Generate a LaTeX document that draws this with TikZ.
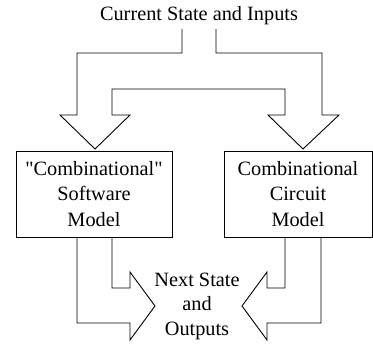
\documentclass[tikz,border=0pt]{standalone}
\usepackage{fontspec}
\setmainfont{Liberation Serif}[Ligatures=TeXOff]
\usetikzlibrary{positioning}
\tikzset{model/.style={rectangle,draw,align=center,inner sep=0pt,font=\fontsize{20.3}{25.5}\selectfont},label/.style={align=center,inner sep=0pt,font=\fontsize{20.3}{24.5}\selectfont},fat/.style={draw,line width=0.9pt,line join=miter}}
\begin{document}
\begin{tikzpicture}[x=1pt,y=-1pt]
\useasboundingbox (0,0) rectangle (373,345);
\node[label, anchor=base] (in) at (199,21) {Current State and Inputs};
\node[model, minimum width=156pt, minimum height=86pt, line width=0.9pt] (sw) at (94,194) {"Combinational"\\Software\\Model};
\node[model, minimum width=148pt, minimum height=86pt, line width=0.9pt] (cc) at (298,194) {Combinational\\Circuit\\Model};
\node[label] (out) at (197,306) {Next State\\and\\Outputs};
% forked input arrow
\draw[fat] (182,29) -- (182,53) -- (77,53) -- (77,115) -- (60,115) -- (95,149) -- (130,115) -- (112,115)
  -- (112,89) -- (285,89) -- (285,115) -- (268,115) -- (303,149) -- (339,115) -- (322,115)
  -- (322,53) -- (216,53) -- (216,29);
% output arrows
\draw[fat] (77,237) -- (77,323) -- (130,323) -- (130,340) -- (155,306) -- (130,272) -- (130,288) -- (112,288) -- (112,237);
\draw[fat] (321,237) -- (321,323) -- (267,323) -- (267,340) -- (242,306) -- (267,272) -- (267,288) -- (285,288) -- (285,237);
\end{tikzpicture}
\end{document}
